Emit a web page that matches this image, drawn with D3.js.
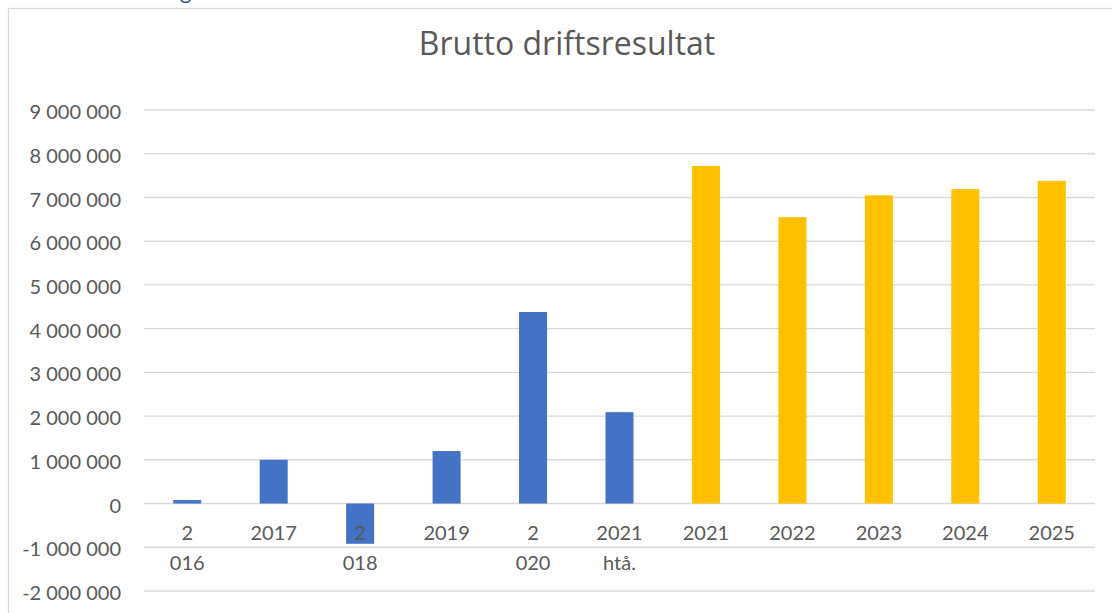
<!DOCTYPE html>
<html>
<head>
<meta charset="utf-8">
<script src="https://cdn.jsdelivr.net/npm/d3@7"></script>
<style>
  html, body { margin: 0; padding: 0; background: #ffffff; }
  svg { display: block; }
</style>
</head>
<body>
<svg id="chart" width="1112" height="613"></svg>
<script>
// ---- Data ----
const categories = ["2016", "2017", "2018", "2019", "2020", "2021 htå.", "2021", "2022", "2023", "2024", "2025"];
const tickLabels = [["2", "016"], ["2017"], ["2", "018"], ["2019"], ["2", "020"], ["2021", "htå."], ["2021"], ["2022"], ["2023"], ["2024"], ["2025"]];
const regnskap = [80000, 1000000, -920000, 1200000, 4380000, 2090000, null, null, null, null, null];
const budsjett = [null, null, null, null, null, null, 7720000, 6550000, 7050000, 7190000, 7380000];
const yTicks = [-2000000, -1000000, 0, 1000000, 2000000, 3000000, 4000000, 5000000, 6000000, 7000000, 8000000, 9000000];
const title = "Brutto driftsresultat";

// ---- Layout ----
const svg = d3.select("#chart");
const font = "Lato, 'Open Sans', sans-serif";
const titleFont = "'Open Sans', Lato, sans-serif";
const textColor = "#595959";
const plot = { left: 144, right: 1095, top: 110, bottom: 591 };

// chart border
svg.append("rect")
  .attr("x", 8.5).attr("y", 8.5)
  .attr("width", 1300).attr("height", 800)
  .attr("fill", "#ffffff")
  .attr("stroke", "#d9d9d9").attr("stroke-width", 1.2);

// cut-off text above chart (partly visible in the reference)
svg.append("text")
  .attr("x", 180).attr("y", -1.5)
  .attr("font-family", font).attr("font-size", 22)
  .attr("fill", "#2F5496")
  .text("g");

const x = d3.scaleBand().domain(categories).range([plot.left, plot.right]).padding(0);
const y = d3.scaleLinear().domain([-2000000, 9000000]).range([plot.bottom, plot.top]);

const fmt = v => d3.format(",")(v).replace(/,/g, " ").replace("−", "-");

// gridlines
svg.append("g").selectAll("line").data(yTicks).join("line")
  .attr("x1", plot.left).attr("x2", plot.right)
  .attr("y1", d => y(d)).attr("y2", d => y(d))
  .attr("stroke", "#d9d9d9").attr("stroke-width", 1.4);

// y labels
svg.append("g").selectAll("text").data(yTicks).join("text")
  .attr("x", 121).attr("y", d => y(d) + 4)
  .attr("text-anchor", "end").attr("dominant-baseline", "middle")
  .attr("font-family", font).attr("font-size", 20)
  .attr("fill", textColor)
  .text(d => fmt(d));

// bars
const barW = x.bandwidth() * 0.324;
function drawSeries(values, color) {
  const data = categories.map((c, i) => ({ c, v: values[i] })).filter(d => d.v !== null);
  svg.append("g").selectAll("rect").data(data).join("rect")
    .attr("x", d => x(d.c) + x.bandwidth() / 2 - barW / 2)
    .attr("width", barW)
    .attr("y", d => Math.min(y(d.v), y(0)))
    .attr("height", d => Math.abs(y(d.v) - y(0)))
    .attr("fill", color);
}
drawSeries(regnskap, "#4472C4");
drawSeries(budsjett, "#FFC000");

// x labels
const xl = svg.append("g");
categories.forEach((c, i) => {
  const t = xl.append("text")
    .attr("x", x(c) + x.bandwidth() / 2)
    .attr("y", 540)
    .attr("text-anchor", "middle")
    .attr("font-family", font).attr("font-size", 20)
    .attr("fill", textColor);
  tickLabels[i].forEach((line, j) => {
    t.append("tspan")
      .attr("x", x(c) + x.bandwidth() / 2)
      .attr("dy", j === 0 ? 0 : 30)
      .text(line);
  });
});

// title
svg.append("text")
  .attr("x", 567).attr("y", 55)
  .attr("text-anchor", "middle")
  .attr("font-family", titleFont).attr("font-size", 32)
  .attr("fill", textColor)
  .text(title);
</script>
</body>
</html>
